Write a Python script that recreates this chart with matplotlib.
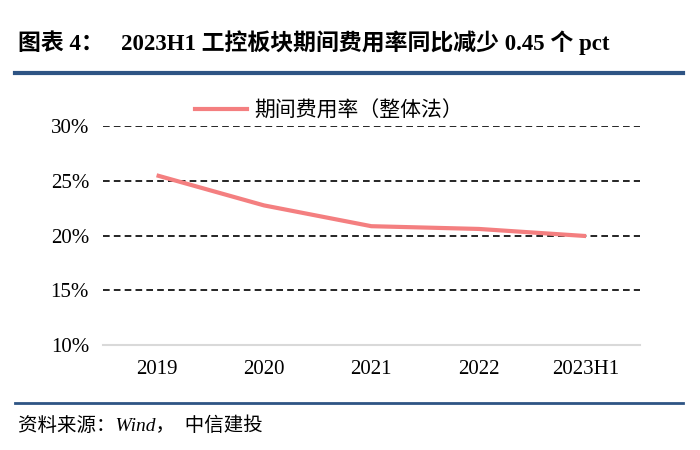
import matplotlib.pyplot as plt
from matplotlib.lines import Line2D

# data
categories = ['2019', '2020', '2021', '2022', '2023H1']
expense_ratio = [25.5, 22.75, 20.85, 20.6, 19.95]
y_ticks = [10, 15, 20, 25, 30]
series_name = '期间费用率（整体法）'
title = '图表 4：   2023H1 工控板块期间费用率同比减少 0.45 个 pct'
source = '资料来源：Wind，  中信建投'

fonts = ['Liberation Serif', 'Noto Sans CJK SC', 'DejaVu Sans']
plt.rcParams['font.family'] = fonts

fig = plt.figure(figsize=(7, 4.5), dpi=100)
ax = fig.add_axes([0.147, 0.2333, 0.767, 0.4867])

x = range(len(categories))
ax.plot(x, expense_ratio, color='#F47F80', lw=3, solid_joinstyle='round',
        solid_capstyle='butt', zorder=3)

ax.set_xlim(-0.5, len(categories) - 0.5)
ax.set_ylim(10, 30)
ax.set_yticks(y_ticks)
ax.set_yticklabels([f'{v}%' for v in y_ticks], fontsize=15)
ax.set_xticks(list(x))
ax.set_xticklabels(categories, fontsize=15)
ax.tick_params(length=0, colors='#000000')
ax.tick_params(axis='x', pad=11)
ax.tick_params(axis='y', pad=10)

for v in y_ticks[1:]:
    ax.axhline(v, color='black', lw=1.2, ls=(0, (4, 2.5)), zorder=1)

for s in ['top', 'right', 'left']:
    ax.spines[s].set_visible(False)
ax.spines['bottom'].set_color('#d9d9d9')
ax.spines['bottom'].set_linewidth(1.5)

# legend
handle = Line2D([], [], color='#F47F80', lw=3)
fig.legend([handle], [series_name], loc='center', bbox_to_anchor=(0.47, 0.752),
           frameon=False, fontsize=15, handlelength=2.5, handletextpad=0.35)

# header / footer
fig.text(0.026, 0.905, title, fontsize=16.5, fontweight='bold', ha='left', va='center')
fig.add_artist(Line2D([0.021, 0.976], [0.838, 0.838], color='#2E5484', lw=3,
                      transform=fig.transFigure))
fig.add_artist(Line2D([0.021, 0.976], [0.105, 0.105], color='#2E5484', lw=2,
                      transform=fig.transFigure))
fig.text(0.026, 0.055, source, fontsize=14, style='italic', ha='left', va='center')

fig.savefig('out.png', dpi=100)
